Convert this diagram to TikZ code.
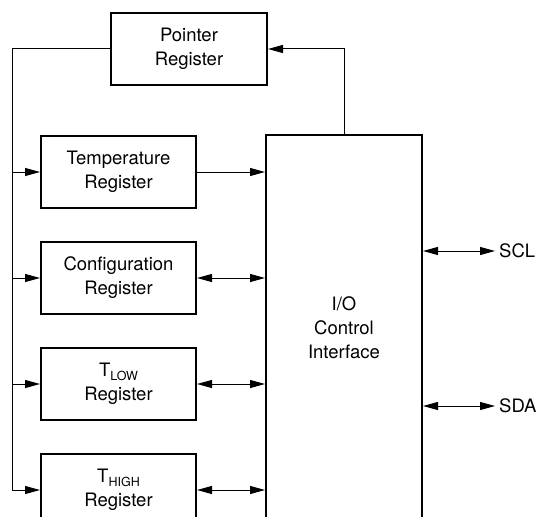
\documentclass[tikz,border=0pt]{standalone}
\usepackage{fontspec}
\setmainfont{TeX Gyre Heros}
\usetikzlibrary{positioning, calc, arrows.meta}
\newcommand{\regsub}[1]{\raisebox{-4pt}{\fontsize{12.5}{12.5}\selectfont #1}}

\begin{document}
\begin{tikzpicture}[x=1pt, y=-1pt,
  reg/.style={
    draw, line width=2pt, minimum width=155pt, minimum height=72pt,
    align=center, inner sep=0pt, font=\fontsize{18.5}{24}\selectfont
  },
  iobox/.style={reg, minimum width=156pt, minimum height=385pt},
  conn/.style={-{Triangle[length=15pt, width=8pt]}, line width=1pt},
  both/.style={{Triangle[length=15pt, width=8pt]}-{Triangle[length=15pt, width=8pt]}, line width=1pt},
  sig/.style={anchor=west, inner sep=4pt, font=\fontsize{18.5}{24}\selectfont}
]
  \clip (0,0) rectangle (540,516);

  \node[reg, minimum width=156pt] (pointer) at (189,49) {Pointer\\Register};
  \node[reg] (temp) at (118.5,172) {Temperature\\Register};
  \node[reg, below=32pt of temp] (config) {Configuration\\Register};
  \node[reg, below=32pt of config] (tlow) {T\regsub{LOW}\\Register};
  \node[reg, below=32pt of tlow] (thigh) {T\regsub{HIGH}\\Register};
  \node[iobox] (io) at (344,327.5) {I/O\\Control\\Interface};

  \node[sig] (scl) at (495,251) {SCL};
  \node[sig] (sda) at (495,406) {SDA};

  \coordinate (bus) at (12,49);
  \draw[conn] (pointer.west) -- (bus) |- (thigh.west);
  \draw[conn] (bus |- temp.west) -- (temp.west);
  \draw[conn] (bus |- config.west) -- (config.west);
  \draw[conn] (bus |- tlow.west) -- (tlow.west);

  \draw[conn] (temp.east) -- (temp.east -| io.west);
  \draw[both] (config.east) -- (config.east -| io.west);
  \draw[both] (tlow.east) -- (tlow.east -| io.west);
  \draw[both] (thigh.east) -- (thigh.east -| io.west);

  \draw[conn] (io.north) |- (pointer.east);

  \draw[both] (io.east |- scl.west) -- (scl.west);
  \draw[both] (io.east |- sda.west) -- (sda.west);
\end{tikzpicture}
\end{document}
